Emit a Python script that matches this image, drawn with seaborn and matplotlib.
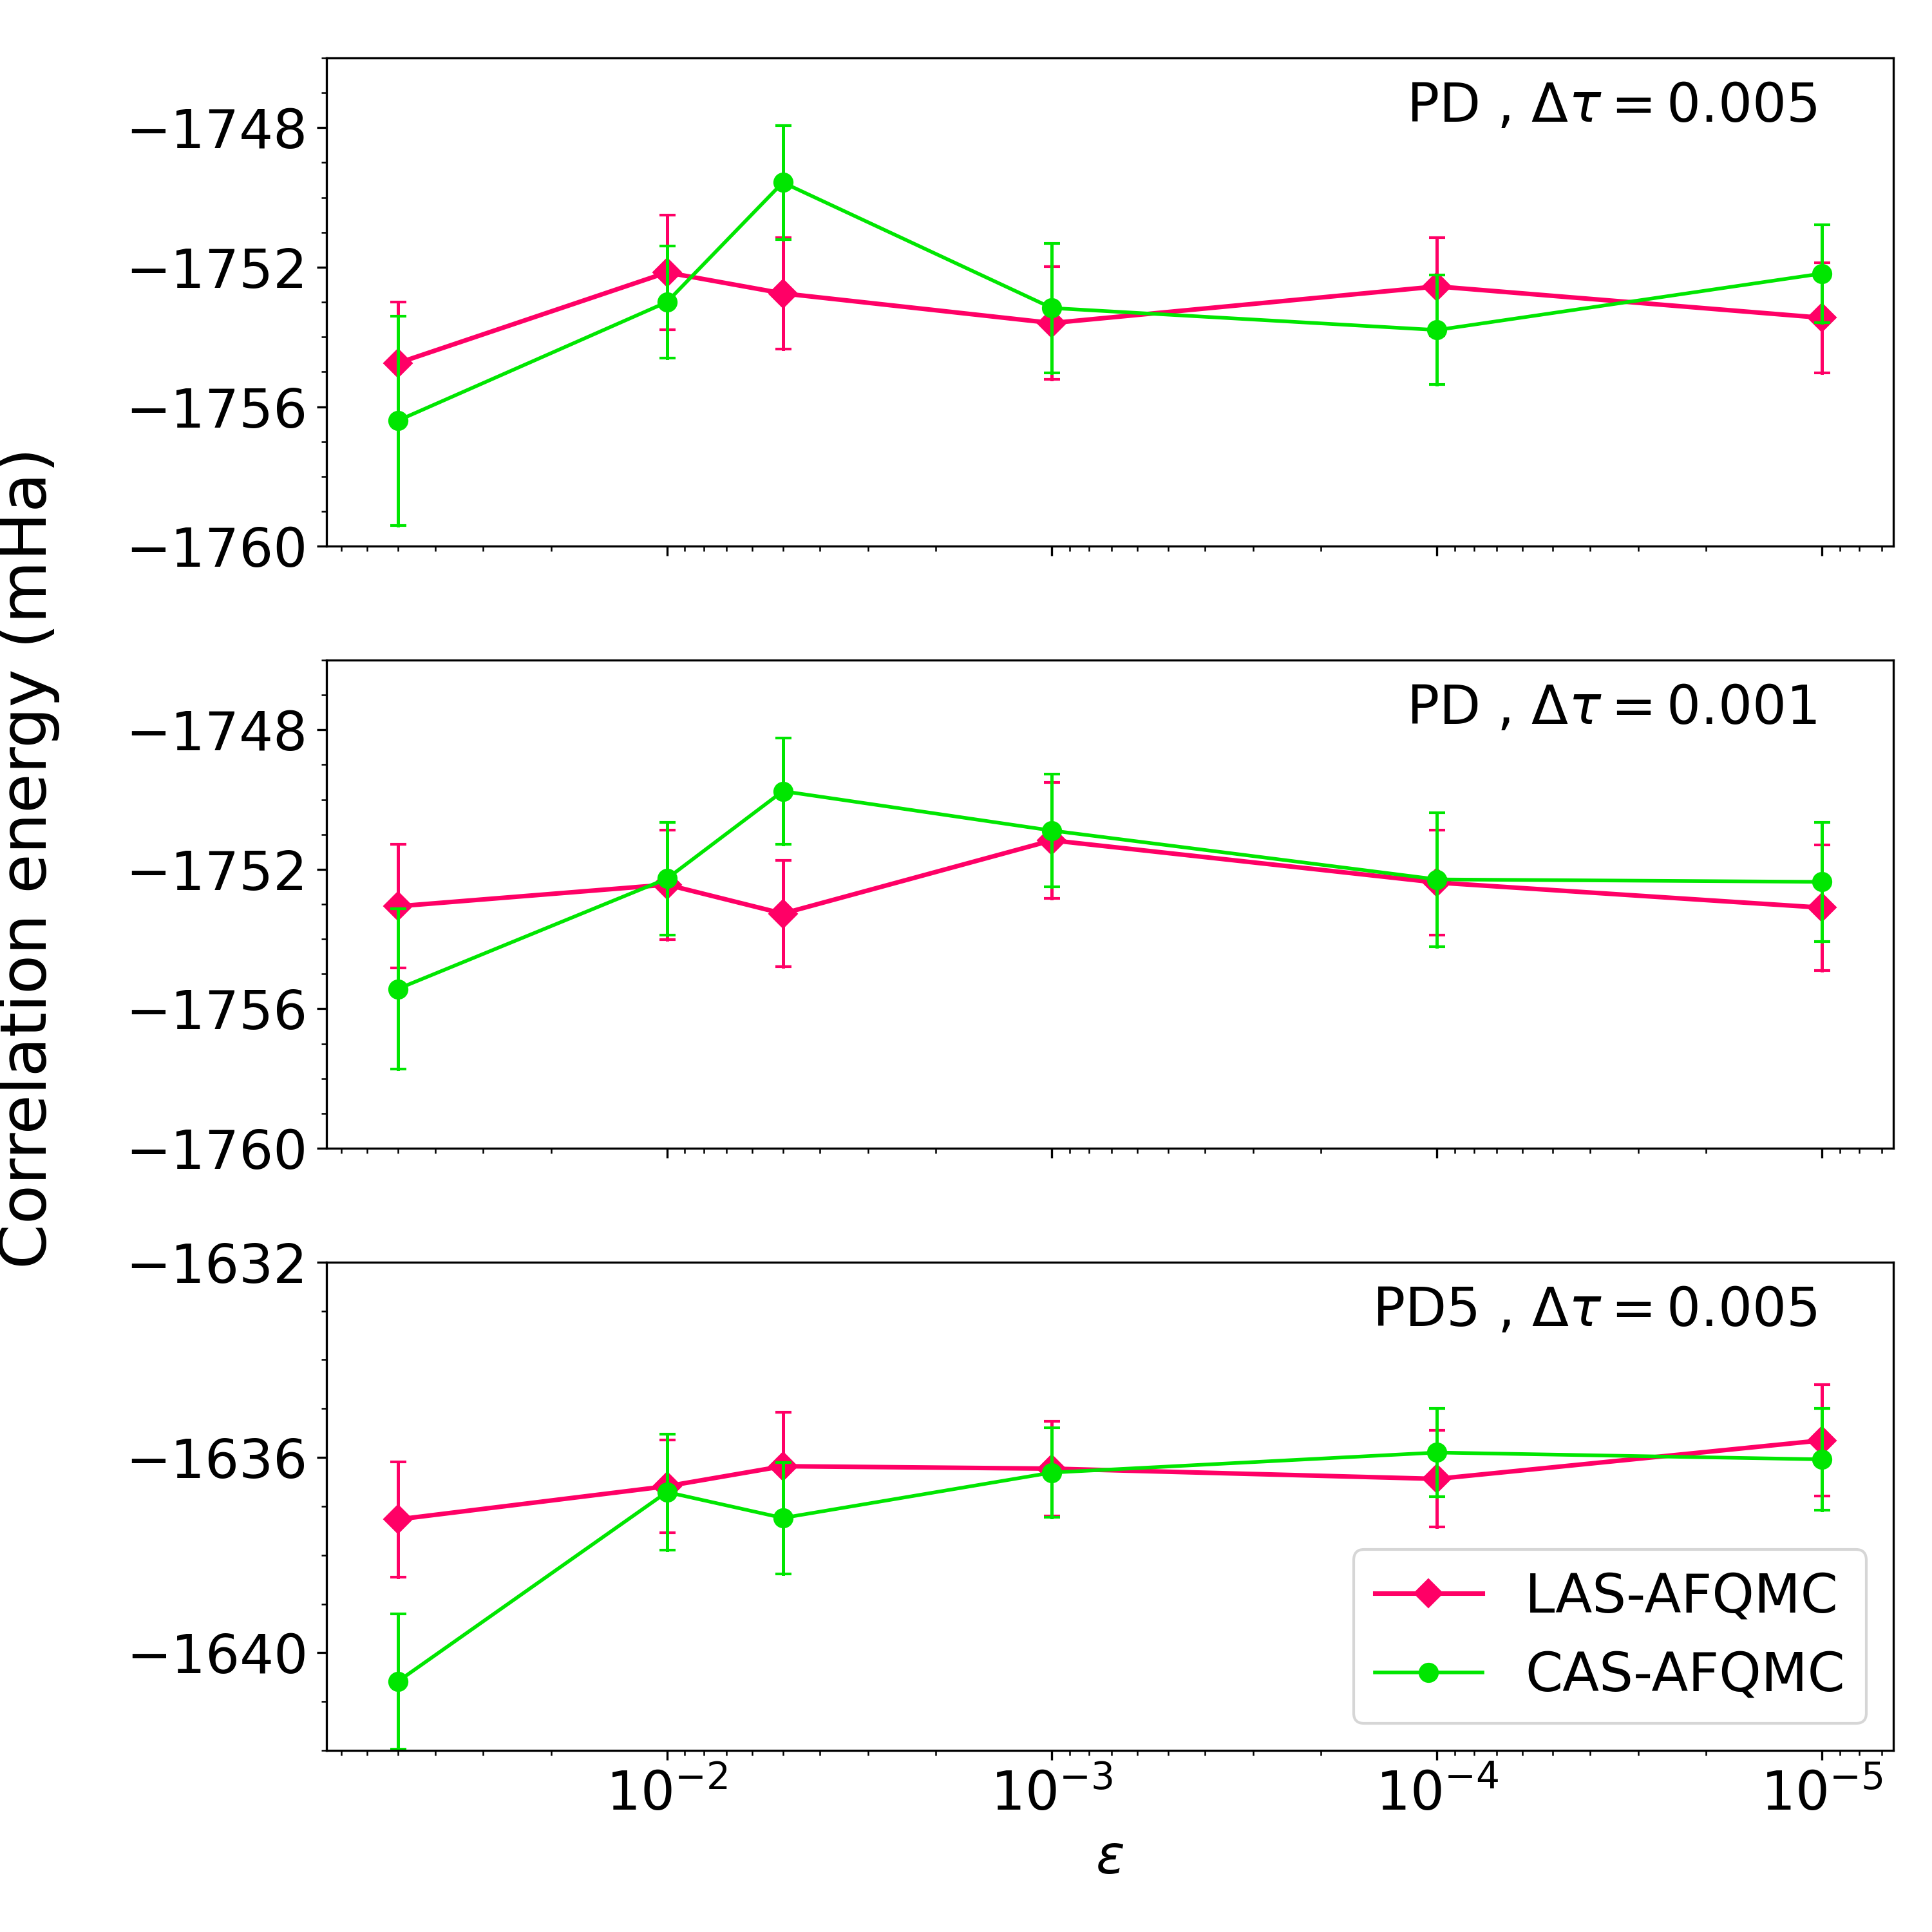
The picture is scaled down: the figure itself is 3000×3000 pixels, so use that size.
import numpy as np
import pandas as pd
import matplotlib
matplotlib.use("Agg")
import matplotlib.pyplot as plt
import seaborn as sns
from matplotlib.ticker import MultipleLocator

plt.rcParams['font.family'] = ['DejaVu Sans']

# ---------------- data ----------------
eps = [5e-2, 1e-2, 5e-3, 1e-3, 1e-4, 1e-5]
methods = ['LAS-AFQMC', 'CAS-AFQMC']
panel_labels = [r'PD , $\Delta\tau = 0.005$',
                r'PD , $\Delta\tau = 0.001$',
                r'PD5 , $\Delta\tau = 0.005$']

# PD, dtau = 0.005
las_pd_005 = [-1754.75, -1752.15, -1752.75, -1753.60, -1752.55, -1753.45]
las_pd_005_err = [1.75, 1.65, 1.60, 1.62, 1.40, 1.57]
cas_pd_005 = [-1756.40, -1753.00, -1749.57, -1753.17, -1753.80, -1752.18]
cas_pd_005_err = [3.00, 1.60, 1.63, 1.85, 1.57, 1.40]

# PD, dtau = 0.001
las_pd_001 = [-1753.06, -1752.44, -1753.27, -1751.17, -1752.38, -1753.10]
las_pd_001_err = [1.77, 1.57, 1.52, 1.66, 1.50, 1.80]
cas_pd_001 = [-1755.43, -1752.27, -1749.76, -1750.89, -1752.29, -1752.36]
cas_pd_001_err = [2.30, 1.62, 1.52, 1.62, 1.92, 1.71]

# PD5, dtau = 0.005
las_pd5_005 = [-1637.27, -1636.59, -1636.18, -1636.23, -1636.44, -1635.65]
las_pd5_005_err = [1.18, 0.95, 1.10, 0.97, 0.99, 1.14]
cas_pd5_005 = [-1640.59, -1636.71, -1637.24, -1636.31, -1635.90, -1636.04]
cas_pd5_005_err = [1.38, 1.19, 1.14, 0.92, 0.90, 1.04]

panels = [
    (las_pd_005, las_pd_005_err, cas_pd_005, cas_pd_005_err),
    (las_pd_001, las_pd_001_err, cas_pd_001, cas_pd_001_err),
    (las_pd5_005, las_pd5_005_err, cas_pd5_005, cas_pd5_005_err),
]
ylims = [(-1760, -1746), (-1760, -1746), (-1642, -1632)]
yticks = [[-1760, -1756, -1752, -1748], [-1760, -1756, -1752, -1748],
          [-1640, -1636, -1632]]

colors = {'LAS-AFQMC': '#ff0066', 'CAS-AFQMC': '#00e600'}
markers = {'LAS-AFQMC': 'D', 'CAS-AFQMC': 'o'}
msizes = {'LAS-AFQMC': 7.5, 'CAS-AFQMC': 7}
lwidths = {'LAS-AFQMC': 1.7, 'CAS-AFQMC': 1.35}


def long_frame(vals, errs):
    # two rows per point (value -/+ error): the mean is the value and the
    # min/max interval is the error bar
    rows = []
    for x, v, e in zip(eps, vals, errs):
        rows.append({'eps': x, 'E': v - e})
        rows.append({'eps': x, 'E': v + e})
    return pd.DataFrame(rows)


fig, axes = plt.subplots(3, 1, figsize=(10, 10), dpi=300, sharex=True)
fig.subplots_adjust(left=0.169, right=0.980, top=0.970, bottom=0.094, hspace=0.233)

for i, ax in enumerate(axes):
    ax.set_xscale('log')
    las, las_err, cas, cas_err = panels[i]
    for m, vals, errs in ((methods[0], las, las_err), (methods[1], cas, cas_err)):
        df = long_frame(vals, errs)
        sns.lineplot(data=df, x='eps', y='E', color=colors[m], marker=markers[m],
                     estimator='mean', errorbar=lambda v: (v.min(), v.max()),
                     err_style='bars',
                     err_kws={'capsize': 3, 'elinewidth': 1.2, 'capthick': 1.0},
                     linewidth=lwidths[m], markersize=msizes[m],
                     markeredgewidth=0.5, markeredgecolor=colors[m],
                     label=m, ax=ax)
    ax.set_ylim(*ylims[i])
    ax.set_yticks(yticks[i])
    ax.yaxis.set_minor_locator(MultipleLocator(1))
    ax.tick_params(labelsize=20)
    ax.set_xlabel('')
    ax.set_ylabel('')
    ax.text(0.951, 0.90, panel_labels[i], transform=ax.transAxes,
            ha='right', va='center', fontsize=20)
    if i < 2:
        lg = ax.get_legend()
        if lg is not None:
            lg.remove()

axes[0].invert_xaxis()

axes[2].legend(loc='lower right', fontsize=20)

axes[2].set_xlabel(r'$\varepsilon$', fontsize=20)
fig.text(0.015, 0.556, 'Correlation energy (mHa)', rotation=90,
         ha='center', va='center', fontsize=24)

fig.savefig('out.png', dpi=300)
